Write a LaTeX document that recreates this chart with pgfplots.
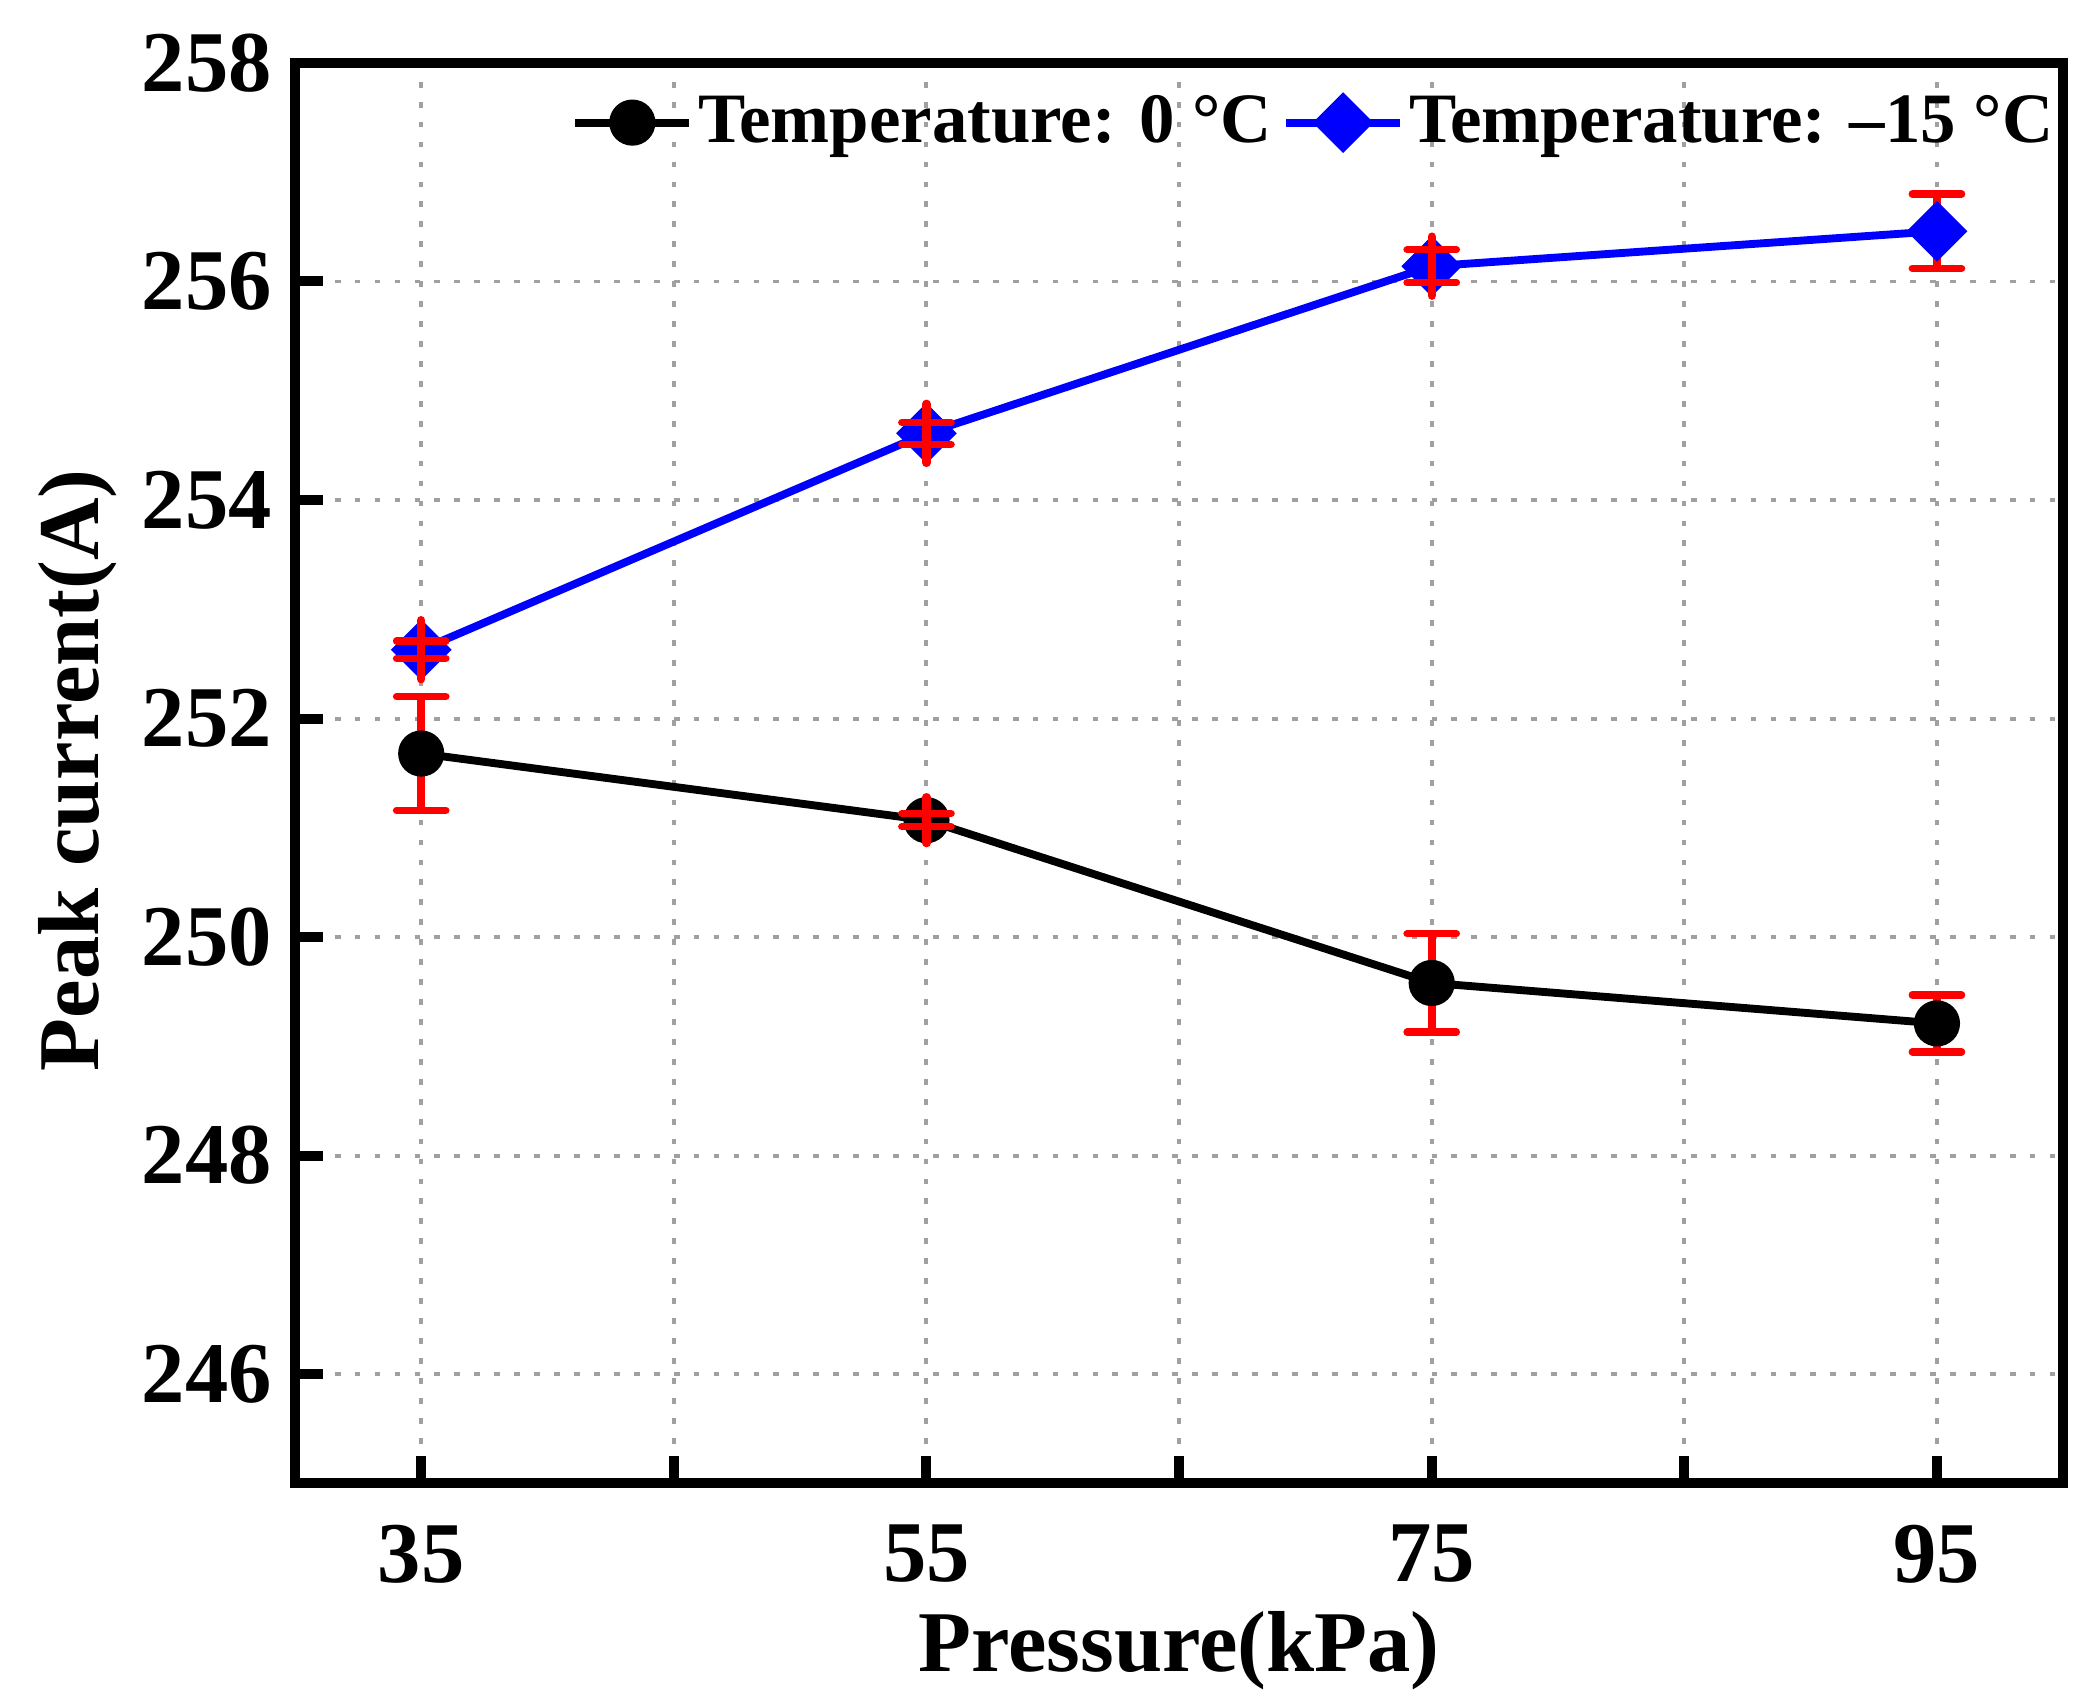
\documentclass[border=0pt]{standalone}
\usepackage{fontspec}
\setmainfont{Liberation Serif}
\usepackage{pgfplots}
\pgfplotsset{compat=1.18}
\usepackage{pgfplotstable}
\definecolor{gridgray}{RGB}{160,160,160}
\definecolor{ebred}{RGB}{255,0,0}
\definecolor{lineblue}{RGB}{0,0,255}

\pgfplotstableread{
x y e
35 251.68 0.52
55 251.07 0.06
75 249.58 0.45
95 249.21 0.26
}\blacktab
\pgfplotstableread{
x y e
35 252.63 0.08
55 254.61 0.10
75 256.14 0.15
95 256.46 0.34
}\bluetab
% error bars longer than the marker (drawn below the markers)
\pgfplotstableread{
x y e
35 251.68 0.52
75 249.58 0.45
95 249.21 0.26
95 256.46 0.34
}\bigerr
% error bars shorter than the marker (drawn above the markers)
\pgfplotstableread{
x y e m
55 251.07 0.06 0.21
35 252.63 0.08 0.27
55 254.61 0.10 0.27
75 256.14 0.15 0.27
}\smallerr

\begin{document}
\begin{tikzpicture}
\useasboundingbox (-56.2pt,-40.4pt) rectangle (343.8pt,282.7pt);
\begin{axis}[
  at={(0,0)}, anchor=south west,
  scale only axis, width=337pt, height=270.7pt,
  xmin=30, xmax=100, ymin=245, ymax=258,
  xtick={35,45,...,95},
  xticklabels={35,,55,,75,,95},
  ytick={246,248,...,258},
  xtick pos=bottom, ytick pos=left,
  tick align=inside,
  major tick length=5.3pt,
  every tick/.style={black, line width=1.9pt},
  axis line style={line width=1.9pt, black},
  grid=major,
  major grid style={gridgray, line width=0.75pt, dash pattern=on 1.1pt off 2.7pt},
  /pgf/number format/assume math mode=true,
  /pgf/number format/1000 sep={},
  tick label style={font=\fontsize{16.5}{19}\selectfont\bfseries},
  xticklabel style={yshift=-4.4pt},
  yticklabel style={xshift=-0.9pt},
  label style={font=\fontsize{16.5}{19}\selectfont\bfseries},
  xlabel={Pressure(kPa)},
  ylabel={Peak current(A)},
  xlabel style={at={(axis description cs:0.5,-0.1175)}, anchor=center},
  ylabel style={at={(axis description cs:-0.123,0.502)}, anchor=center},
  clip=false,
  legend columns=2,
  legend image code/.code={%
    \draw[#1, mark repeat=2, mark phase=2] plot coordinates {(0pt,0pt) (10.85pt,0pt) (21.7pt,0pt)};},
  legend style={draw=none, fill=none, inner sep=0pt,
    at={(axis description cs:0.998,0.958)}, anchor=east,
    font=\fontsize{13.5}{16}\selectfont\bfseries,
    nodes={inner sep=1pt},
    /tikz/every even column/.append style={column sep=1pt}},
]
% large error bars, under markers
\addplot[forget plot, draw=none, mark=none,
  error bars/.cd, y dir=both, y explicit,
  error bar style={draw=ebred, line width=1.6pt, solid},
  error mark=|,
  error mark options={draw=ebred, line width=1.4pt, mark size=4.7pt, line cap=round, solid}]
  table[x=x, y=y, y error=e] {\bigerr};

\addplot[black, line width=1.5pt, mark=*, mark size=4.2pt,
  mark options={solid, fill=black, line width=0.4pt}]
  table[x=x, y=y] {\blacktab};
\addlegendentry{Temperature: 0 °C}

\addplot[lineblue, line width=1.5pt, mark=diamond*, mark size=5.5pt,
  mark options={solid, fill=lineblue, line width=0.4pt, xscale=1.333}]
  table[x=x, y=y] {\bluetab};
\addlegendentry{Temperature: –15 °C}
\end{axis}
% overlay axis: small error bars drawn over the markers
\begin{axis}[
  at={(0,0)}, anchor=south west,
  scale only axis, width=337pt, height=270.7pt,
  xmin=30, xmax=100, ymin=245, ymax=258,
  hide axis, clip=false,
]
\addplot[forget plot, draw=none, mark=none,
  error bars/.cd, y dir=both, y explicit,
  error bar style={draw=ebred, line width=1.6pt, solid, line cap=round},
  error mark=none]
  table[x=x, y=y, y error=m] {\smallerr};
\addplot[forget plot, draw=none, mark=none,
  error bars/.cd, y dir=both, y explicit,
  error bar style={draw=ebred, line width=1.6pt, solid},
  error mark=|,
  error mark options={draw=ebred, line width=1.4pt, mark size=4.7pt, line cap=round, solid}]
  table[x=x, y=y, y error=e] {\smallerr};
\end{axis}
\end{tikzpicture}
\end{document}
